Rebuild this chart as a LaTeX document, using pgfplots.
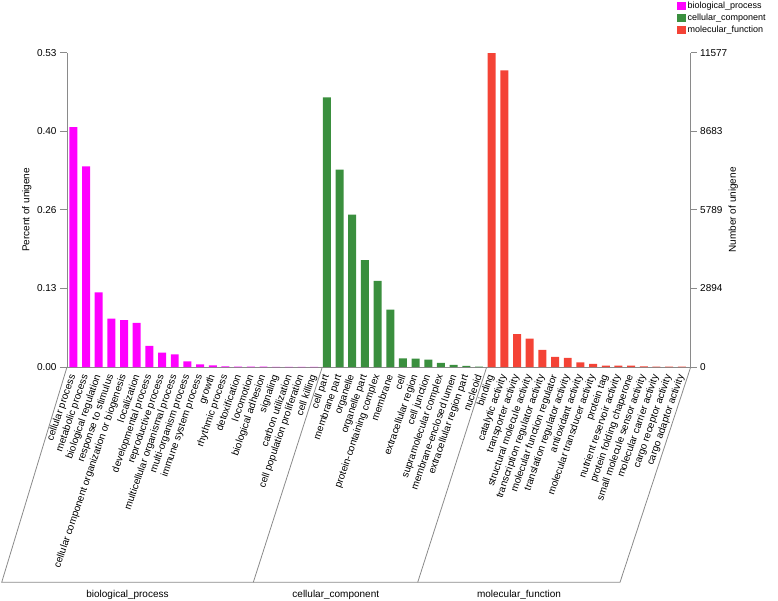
\documentclass[border=0pt]{standalone}
\usepackage{fontspec}
\setmainfont{Liberation Sans}
\usepackage{pgfplots}
\usepackage{pgfplotstable}
\pgfplotsset{compat=1.18}
\definecolor{bpc}{HTML}{FF00FF}
\definecolor{ccc}{HTML}{3A8F3E}
\definecolor{mfc}{HTML}{F44336}
\definecolor{axc}{HTML}{8A8A8A}

\pgfplotstableread{
x y
0 0.4046
1 0.3385
2 0.1259
3 0.0814
4 0.0792
5 0.0746
6 0.0356
7 0.0242
8 0.0215
9 0.0093
10 0.0046
11 0.0029
12 0.0009
13 0.0008
14 0.0006
15 0.0006
16 0.0004
17 0.0004
18 0.0003
19 0.0003
}\bptab

\pgfplotstableread{
x y
20 0.4547
21 0.3327
22 0.2571
23 0.1802
24 0.1453
25 0.0966
26 0.0147
27 0.0141
28 0.0124
29 0.0068
30 0.0034
31 0.0017
32 0.0006
}\cctab

\pgfplotstableread{
x y
33 0.5293
34 0.5000
35 0.0554
36 0.0480
37 0.0288
38 0.0169
39 0.0153
40 0.0080
41 0.0051
42 0.0025
43 0.0022
44 0.0022
45 0.0010
46 0.0008
47 0.0008
48 0.0008
}\mftab

\begin{document}
\begin{tikzpicture}[x=1pt,y=1pt]
\useasboundingbox (0,0) rectangle (778,-601);
\begin{axis}[
  at={(67pt,-367pt)}, anchor=south west,
  scale only axis, width=623.7pt, height=314.3pt,
  xmin=-0.5, xmax=48.7, ymin=0, ymax=0.53,
  axis x line*=bottom, axis y line*=left,
  axis line style={axc, line width=0.8pt, -},
  ybar, bar width=0.63, bar shift=0pt,
  ytick={0,0.1325,0.265,0.3975,0.53},
  yticklabels={0.00,0.13,0.26,0.40,0.53},
  tick align=outside, major tick length=7pt,
  ytick style={axc, line width=0.8pt},
  xtick={0,...,48},
  xtick style={draw=none},
  xticklabels={cellular process, metabolic process, biological regulation, response to stimulus, cellular component organization or biogenesis, localization, developmental process, reproductive process, multicellular organismal process, multi-organism process, immune system process, growth, rhythmic process, detoxification, locomotion, biological adhesion, signaling, carbon utilization, cell population proliferation, cell killing, cell part, membrane part, organelle, organelle part, protein-containing complex, membrane, cell, extracellular region, cell junction, supramolecular complex, membrane-enclosed lumen, extracellular region part, nucleoid, binding, catalytic activity, transporter activity, structural molecule activity, transcription regulator activity, molecular function regulator, translation regulator activity, antioxidant activity, molecular transducer activity, protein tag, nutrient reservoir activity, protein folding chaperone, small molecule sensor activity, molecular carrier activity, cargo receptor activity, cargo adaptor activity},
  xticklabel style={rotate=71, anchor=east, font=\fontsize{10}{12}\selectfont, inner sep=1pt},
  yticklabel style={font=\fontsize{10}{12}\selectfont},
  ylabel={Percent of unigene},
  ylabel style={at={(axis description cs:-0.0646,0.5)}, anchor=center, font=\fontsize{10}{12}\selectfont},
  legend style={at={(axis description cs:0.978,1.1677)}, anchor=north west, draw=none, fill=none, inner sep=0pt, font=\fontsize{9}{12.2}\selectfont, row sep=0pt},
  legend cell align=left,
  legend image code/.code={\fill[#1] (0pt,-4pt) rectangle (8.5pt,4pt);},
  /pgf/number format/assume math mode=true,
]
\addplot[fill=bpc, draw=none] table[x=x,y=y] {\bptab};
\addlegendentry{biological\_process}
\addplot[fill=ccc, draw=none] table[x=x,y=y] {\cctab};
\addlegendentry{cellular\_component}
\addplot[fill=mfc, draw=none] table[x=x,y=y] {\mftab};
\addlegendentry{molecular\_function}
\end{axis}
\begin{axis}[
  at={(67pt,-367pt)}, anchor=south west,
  scale only axis, width=623.7pt, height=314.3pt,
  xmin=-0.5, xmax=48.7, ymin=0, ymax=11577,
  axis x line=none, axis y line*=right,
  scaled y ticks=false,
  axis line style={axc, line width=0.8pt, -},
  ytick={0,2894.25,5788.5,8682.75,11577},
  yticklabels={0,2894,5789,8683,11577},
  tick align=outside, major tick length=6pt,
  ytick style={axc, line width=0.8pt},
  yticklabel style={font=\fontsize{10}{12}\selectfont},
  ylabel={Number of unigene},
  ylabel style={at={(axis description cs:1.0683,0.5)}, anchor=center, font=\fontsize{10}{12}\selectfont},
  /pgf/number format/assume math mode=true,
]
\addplot[draw=none] coordinates {(0,0)};
\end{axis}
\draw[axc, line width=0.8pt] (67,-367) -- (1.7,-582.3) -- (620,-582.3) -- (690.7,-367);
\draw[axc, line width=0.8pt] (322.3,-367) -- (253.3,-582.3);
\draw[axc, line width=0.8pt] (486.7,-367) -- (417.7,-582.3);
\node[font=\fontsize{10}{12}\selectfont] at (127.5,-595) {biological\_process};
\node[font=\fontsize{10}{12}\selectfont] at (335.8,-595) {cellular\_component};
\node[font=\fontsize{10}{12}\selectfont] at (519,-595) {molecular\_function};
\end{tikzpicture}
\end{document}
